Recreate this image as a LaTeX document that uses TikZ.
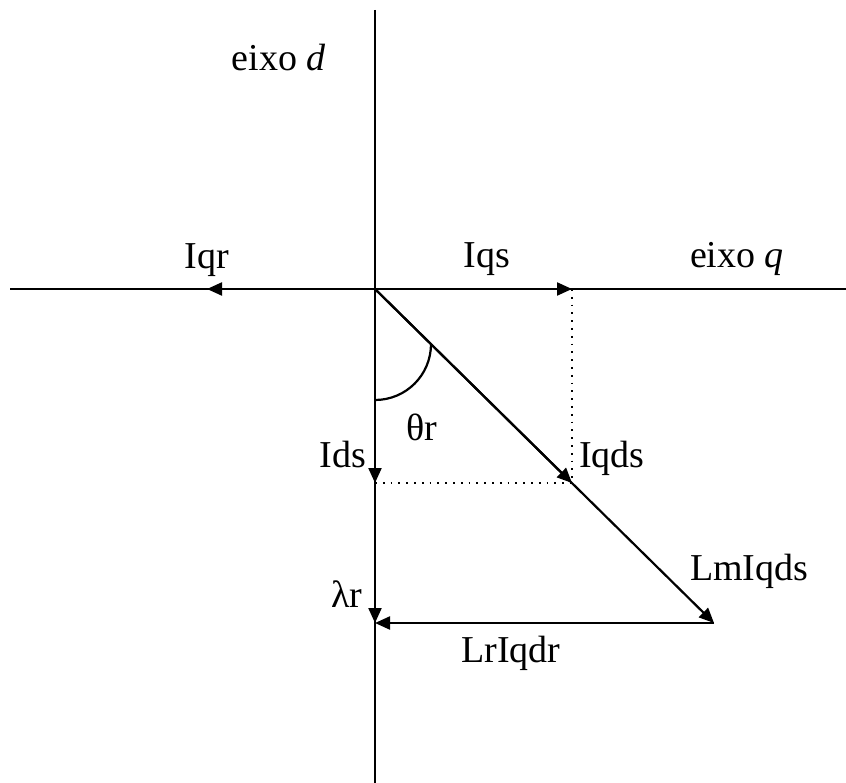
\documentclass[tikz,border=0pt]{standalone}
\usepackage{fontspec}
\setmainfont{Liberation Serif}
\usetikzlibrary{arrows.meta}
\begin{document}
\begin{tikzpicture}[x=1pt,y=-1pt,
  axis/.style={line width=2.2pt},
  vec/.style={line width=2.2pt,-{Triangle[length=15pt,width=13pt]}},
  proj/.style={line width=1.8pt,dash pattern=on 1.8pt off 6pt},
  lbl/.style={inner sep=0pt,anchor=base,font=\fontsize{38}{40}\selectfont}]
\useasboundingbox (0,0) rectangle (846,783);
\coordinate (O) at (375,289);
\coordinate (top) at (375,10);
\coordinate (bot) at (375,783);
\coordinate (left) at (10,289);
\coordinate (right) at (846,289);
\coordinate (Iqr) at (207,289);
\coordinate (Iqs) at (572,289);
\coordinate (Ids) at (375,483);
\coordinate (Iqds) at (572,483);
\coordinate (Lm) at (714,623);
\coordinate (lam) at (375,623);
\coordinate (a1) at (375,400);
\coordinate (a2) at (431,344);
% axes
\draw[axis] (top) -- (bot);
\draw[axis] (left) -- (right);
% vectors
\draw[vec] (O) -- (Iqr);
\draw[vec] (O) -- (Iqs);
\draw[vec] (O) -- (Ids);
\draw[vec] (O) -- (Lm);
\draw[vec] (O) -- (Iqds);
\draw[vec] (O) -- (lam);
\draw[vec] (Lm) -- (lam);
% projections
\draw[proj] (Iqs) -- (Iqds);
\draw[proj] (Ids) -- (Iqds);
% angle
\draw[line width=2.2pt] (a1) .. controls (406,400) and (431,375) .. (a2);
% labels
\node[lbl] (ld) at (279,71) {eixo \textit{d}};
\node[lbl] (lq) at (737,268) {eixo \textit{q}};
\node[lbl] (lqr) at (207,269) {Iqr};
\node[lbl] (lqs) at (487,268) {Iqs};
\node[lbl] (lth) at (422,440) {θr};
\node[lbl] (lds) at (343,467) {Ids};
\node[lbl,anchor=base west] (lqds) at (579,467) {Iqds};
\node[lbl,anchor=base west] (llm) at (690,580) {LmIqds};
\node[lbl] (llam) at (347,607) {λr};
\node[lbl] (llr) at (511,662) {LrIqdr};
\end{tikzpicture}
\end{document}
